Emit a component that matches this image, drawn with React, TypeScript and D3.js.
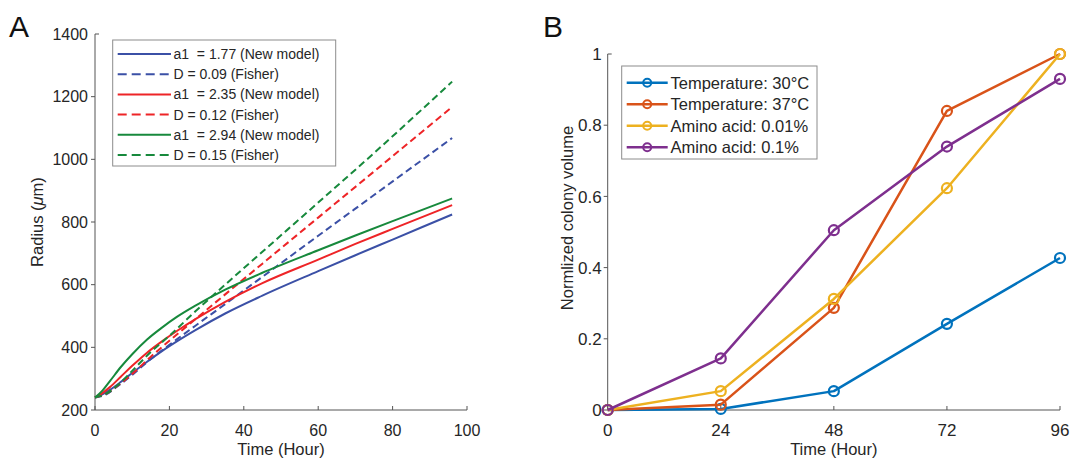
import React from "react";
import * as d3 from "d3";

// ---------- Panel A data ----------
const timeA1 = [0, 2, 4, 7, 10, 14, 18, 22, 27, 35, 45, 60, 70, 80, 96];
const blueSolid = [240, 250, 264, 290, 318, 354, 388, 419, 455, 508, 565, 643, 694, 744, 824];
const redSolid = [240, 254, 273, 307, 341, 383, 419, 452, 490, 545, 605, 680, 730, 778, 854];
const greenSolid = [240, 262, 292, 338, 378, 425, 463, 497, 533, 584, 638, 710, 757, 803, 875];

const timeA2 = [0, 3, 6, 10, 15, 20, 27, 35, 45, 60, 75, 96];
const blueDashed = [240, 250, 275, 312, 363, 408, 469, 538, 625, 756, 886, 1068];
const redDashed = [240, 252, 277, 315, 370, 421, 490, 569, 667, 814, 961, 1167];
const greenDashed = [240, 252, 278, 325, 385, 437, 515, 600, 705, 862, 1020, 1248];

const legendA = [
  "a1\u00a0 = 1.77 (New model)",
  "D = 0.09 (Fisher)",
  "a1\u00a0 = 2.35 (New model)",
  "D = 0.12 (Fisher)",
  "a1\u00a0 = 2.94 (New model)",
  "D = 0.15 (Fisher)",
];
const xTicksA = [0, 20, 40, 60, 80, 100];
const yTicksA = [200, 400, 600, 800, 1000, 1200, 1400];

// ---------- Panel B data ----------
const hoursB = [0, 24, 48, 72, 96];
const temp30 = [0, 0.003, 0.053, 0.242, 0.427];
const temp37 = [0, 0.015, 0.287, 0.84, 1.0];
const amino001 = [0, 0.053, 0.312, 0.623, 1.0];
const amino01 = [0, 0.145, 0.505, 0.74, 0.93];
const legendB = ["Temperature: 30°C", "Temperature: 37°C", "Amino acid: 0.01%", "Amino acid: 0.1%"];
const yTicksB = [0, 0.2, 0.4, 0.6, 0.8, 1];
const yTickLabelsB = ["0", "0.2", "0.4", "0.6", "0.8", "1"];

const FONT = "'Liberation Sans', Arial, Helvetica, sans-serif";
const TXT = "#262626";
const AX = "#555555";

const BLUE = "#3b50a6";
const RED = "#ee2427";
const GREEN = "#17893c";
const colorsB = ["#0072BD", "#D95319", "#EDB120", "#7E2F8E"];

export default function App() {
  const xA = d3.scaleLinear().domain([0, 100]).range([95, 467]);
  const yA = d3.scaleLinear().domain([200, 1400]).range([410, 34]);
  const xB = d3.scaleLinear().domain([0, 96]).range([607.7, 1060]);
  const yB = d3.scaleLinear().domain([0, 1]).range([410, 54]);

  const lineA = (ts: number[], vs: number[]) =>
    d3
      .line<number>()
      .x((_, i) => xA(ts[i]))
      .y((v) => yA(v))
      .curve(d3.curveMonotoneX)(vs) as string;

  const lineB = (vs: number[]) =>
    d3
      .line<number>()
      .x((_, i) => xB(hoursB[i]))
      .y((v) => yB(v))(vs) as string;

  const seriesA = [
    { t: timeA1, v: blueSolid, c: BLUE, dash: "" },
    { t: timeA2, v: blueDashed, c: BLUE, dash: "7,4" },
    { t: timeA1, v: redSolid, c: RED, dash: "" },
    { t: timeA2, v: redDashed, c: RED, dash: "7,4" },
    { t: timeA1, v: greenSolid, c: GREEN, dash: "" },
    { t: timeA2, v: greenDashed, c: GREEN, dash: "7,4" },
  ];
  const seriesB = [temp30, temp37, amino001, amino01];

  return (
    <svg width={1071} height={458} style={{ position: "absolute", left: 0, top: 0, background: "#fff" }} fontFamily={FONT}>
      <rect x={0} y={0} width={1071} height={458} fill="#fff" />
      {/* ================= Panel A ================= */}
      <text x={9} y={37} fontSize={30} fill="#111">A</text>
      <line x1={xA(0)} x2={xA(0)} y1={yA(1400)} y2={yA(200)} stroke={AX} strokeWidth={1} />
      <line x1={xA(0)} x2={xA(100)} y1={yA(200)} y2={yA(200)} stroke={AX} strokeWidth={1} />
      {yTicksA.map((t) => (
        <g key={"ya" + t}>
          {t === 1400 ? (
            <line x1={xA(0)} x2={xA(0) + 4} y1={yA(t)} y2={yA(t)} stroke={AX} />
          ) : (
            <line x1={xA(0) - 4} x2={xA(0)} y1={yA(t)} y2={yA(t)} stroke={AX} />
          )}
          <text x={xA(0) - 7} y={yA(t)} dy="0.36em" textAnchor="end" fontSize={16} fill={TXT}>
            {t}
          </text>
        </g>
      ))}
      {xTicksA.map((t) => (
        <g key={"xa" + t}>
          <line x1={xA(t)} x2={xA(t)} y1={yA(200)} y2={yA(200) - 4} stroke={AX} />
          <text x={xA(t)} y={436} textAnchor="middle" fontSize={16} fill={TXT}>
            {t}
          </text>
        </g>
      ))}
      <text x={xA(50)} y={455} textAnchor="middle" fontSize={16.5} fill={TXT}>
        Time (Hour)
      </text>
      <text transform={`translate(43,222) rotate(-90)`} textAnchor="middle" fontSize={16.5} fill={TXT}>
        Radius (<tspan fontStyle="italic">μ</tspan>m)
      </text>
      {seriesA.map((s, i) => (
        <path key={"la" + i} d={lineA(s.t, s.v)} fill="none" stroke={s.c} strokeWidth={2} strokeDasharray={s.dash || undefined} />
      ))}
      <rect x={112.7} y={40} width={223} height={126} fill="#fff" stroke="#8c8c8c" strokeWidth={1} />
      {legendA.map((lab, i) => {
        const y = 54 + i * 20.2;
        const s = seriesA[i];
        return (
          <g key={"lga" + i}>
            <line x1={117.7} x2={171} y1={y} y2={y} stroke={s.c} strokeWidth={2} strokeDasharray={s.dash ? "9,5" : undefined} />
            <text x={173.5} y={y} dy="0.36em" fontSize={14} fill={TXT} style={{ whiteSpace: "pre" }}>
              {lab}
            </text>
          </g>
        );
      })}

      {/* ================= Panel B ================= */}
      <text x={543} y={37} fontSize={30} fill="#111">B</text>
      <line x1={xB(0)} x2={xB(0)} y1={yB(1)} y2={yB(0)} stroke={AX} strokeWidth={1} />
      <line x1={xB(0)} x2={xB(96)} y1={yB(0)} y2={yB(0)} stroke={AX} strokeWidth={1} />
      {yTicksB.map((t, i) => (
        <g key={"yb" + t}>
          {t === 1 ? (
            <line x1={xB(0)} x2={xB(0) + 4} y1={yB(t)} y2={yB(t)} stroke={AX} />
          ) : (
            <line x1={xB(0) - 4} x2={xB(0)} y1={yB(t)} y2={yB(t)} stroke={AX} />
          )}
          <text x={xB(0) - 6} y={yB(t)} dy="0.36em" textAnchor="end" fontSize={17} fill={TXT}>
            {yTickLabelsB[i]}
          </text>
        </g>
      ))}
      {hoursB.map((t) => (
        <g key={"xb" + t}>
          <line x1={xB(t)} x2={xB(t)} y1={yB(0)} y2={yB(0) - 4} stroke={AX} />
          <text x={xB(t)} y={436} textAnchor="middle" fontSize={17} fill={TXT}>
            {t}
          </text>
        </g>
      ))}
      <text x={xB(48)} y={455} textAnchor="middle" fontSize={16.5} fill={TXT}>
        Time (Hour)
      </text>
      <text transform={`translate(573,218) rotate(-90)`} textAnchor="middle" fontSize={16.5} fill={TXT}>
        Normlized colony volume
      </text>
      {seriesB.map((vs, i) => (
        <g key={"sb" + i}>
          <path d={lineB(vs)} fill="none" stroke={colorsB[i]} strokeWidth={2.5} strokeLinejoin="round" />
          {vs.map((v, j) => (
            <circle key={j} cx={xB(hoursB[j])} cy={yB(v)} r={5} fill="none" stroke={colorsB[i]} strokeWidth={2.2} />
          ))}
        </g>
      ))}
      <rect x={621.7} y={66} width={195.3} height={93} fill="#fff" stroke="#8c8c8c" strokeWidth={1} />
      {legendB.map((lab, i) => {
        const y = 82.7 + i * 21.5;
        return (
          <g key={"lgb" + i}>
            <line x1={626.7} x2={667.7} y1={y} y2={y} stroke={colorsB[i]} strokeWidth={2.5} />
            <circle cx={647.2} cy={y} r={4} fill="none" stroke={colorsB[i]} strokeWidth={2} />
            <text x={670.5} y={y} dy="0.36em" fontSize={16.5} fill={TXT}>
              {lab}
            </text>
          </g>
        );
      })}
    </svg>
  );
}
